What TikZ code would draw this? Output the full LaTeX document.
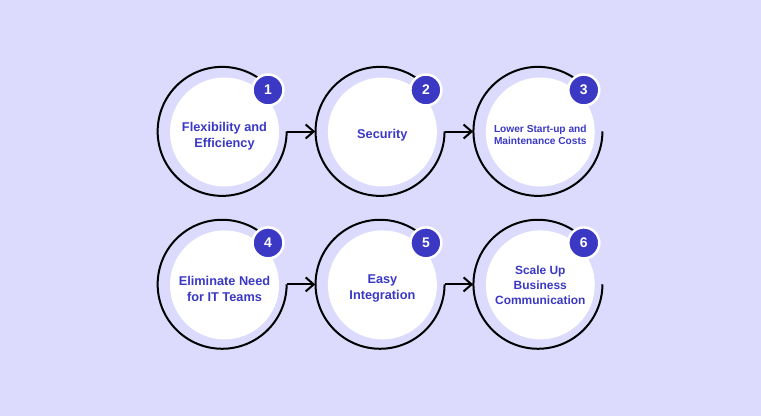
\documentclass[tikz,border=0pt]{standalone}
\usepackage{fontspec}
\setmainfont{Liberation Sans}
\usepackage{tikz}
\usetikzlibrary{arrows.meta, positioning}
\definecolor{bglav}{RGB}{220,219,253}
\definecolor{stepblue}{RGB}{59,57,196}
\tikzstyle{ring} = [circle, minimum size=129bp, inner sep=0pt]
\tikzstyle{disk} = [circle, fill=white, minimum size=109bp, inner sep=0pt]
\tikzstyle{badge} = [circle, fill=stepblue, draw=white, line width=2.5bp, minimum size=31bp, inner sep=0pt, text=white, font=\bfseries\fontsize{14}{14}\selectfont]
\tikzstyle{steptext} = [align=center, text=stepblue, font=\bfseries\fontsize{12.8}{16}\selectfont]
\tikzstyle{ringline} = [line width=2bp, black]
\tikzstyle{arrow} = [line width=2bp, -{Straight Barb[length=8bp, width=14bp]}]

\begin{document}
\begin{tikzpicture}[x=1bp,y=1bp]
            \fill[bglav] (0,0) rectangle (761,416);
            \useasboundingbox (0,0) rectangle (761,416);

            \node[ring] (ring1) at (222,284.5) {};
            \node[ring, right=28.5bp of ring1] (ring2) {};
            \node[ring, right=28.5bp of ring2] (ring3) {};
            \node[ring, below=23.5bp of ring1] (ring4) {};
            \node[ring, right=28.5bp of ring4] (ring5) {};
            \node[ring, right=28.5bp of ring5] (ring6) {};

            \draw[ringline] (ring1.42) arc[start angle=42, end angle=360, radius=64.5bp];
            \draw[ringline] (ring2.42) arc[start angle=42, end angle=360, radius=64.5bp];
            \draw[ringline] (ring3.42) arc[start angle=42, end angle=360, radius=64.5bp];
            \draw[ringline] (ring4.42) arc[start angle=42, end angle=360, radius=64.5bp];
            \draw[ringline] (ring5.42) arc[start angle=42, end angle=360, radius=64.5bp];
            \draw[ringline] (ring6.42) arc[start angle=42, end angle=360, radius=64.5bp];

            \draw[arrow] (ring1.east) -- (ring2.west);
            \draw[arrow] (ring2.east) -- (ring3.west);
            \draw[arrow] (ring4.east) -- (ring5.west);
            \draw[arrow] (ring5.east) -- (ring6.west);

            \node[disk] (disk1) at ([shift={(2.5bp,-0.5bp)}]ring1.center) {};
            \node[disk] (disk2) at ([shift={(2.5bp,-0.5bp)}]ring2.center) {};
            \node[disk] (disk3) at ([shift={(2.5bp,-0.5bp)}]ring3.center) {};
            \node[disk] (disk4) at ([shift={(2.5bp,-0.5bp)}]ring4.center) {};
            \node[disk] (disk5) at ([shift={(2.5bp,-0.5bp)}]ring5.center) {};
            \node[disk] (disk6) at ([shift={(2.5bp,-0.5bp)}]ring6.center) {};

            \node[steptext] (text1) at ([yshift=-4bp]disk1.center) {Flexibility and\\Efficiency};
            \node[steptext] (text2) at ([yshift=-3bp]disk2.center) {Security};
            \node[steptext, font=\bfseries\fontsize{10.2}{12.5}\selectfont] (text3) at ([yshift=-3bp]disk3.center) {Lower Start-up and\\Maintenance Costs};
            \node[steptext] (text4) at ([yshift=-4bp]disk4.center) {Eliminate Need\\for IT Teams};
            \node[steptext] (text5) at ([yshift=-4bp]disk5.center) {Easy\\Integration};
            \node[steptext, font=\bfseries\fontsize{12}{15}\selectfont] (text6) at ([yshift=0bp]disk6.center) {Scale Up\\Business\\Communication};

            \node[badge] (num1) at ([shift={(46bp,41.5bp)}]ring1.center) {1};
            \node[badge] (num2) at ([shift={(46bp,41.5bp)}]ring2.center) {2};
            \node[badge] (num3) at ([shift={(46bp,41.5bp)}]ring3.center) {3};
            \node[badge] (num4) at ([shift={(46bp,41.5bp)}]ring4.center) {4};
            \node[badge] (num5) at ([shift={(46bp,41.5bp)}]ring5.center) {5};
            \node[badge] (num6) at ([shift={(46bp,41.5bp)}]ring6.center) {6};
        \end{tikzpicture}
\end{document}
